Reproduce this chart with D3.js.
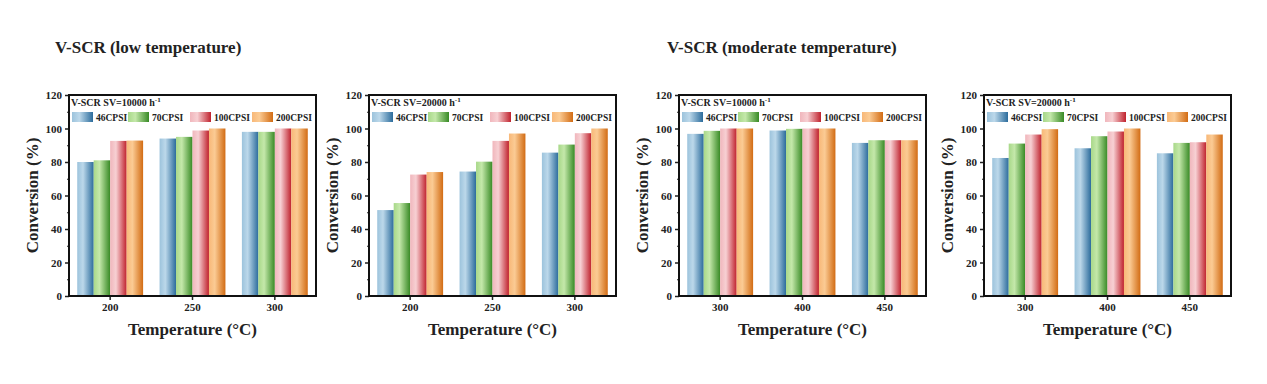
<!DOCTYPE html>
<html>
<head>
<meta charset="utf-8">
<script src="https://cdn.jsdelivr.net/npm/d3@7"></script>
<style>
  body { margin: 0; background: #fff; }
  svg text { font-family: "Liberation Serif", "Times New Roman", serif; font-weight: bold; fill: #222; }
</style>
</head>
<body>
<div id="chart"></div>
<script>
// series names
var series = ['46CPSI', '70CPSI', '100CPSI', '200CPSI'];
var lowTemps = ['200', '250', '300'];
var modTemps = ['300', '400', '450'];
var yTicks = [0, 20, 40, 60, 80, 100, 120];

// conversion values (%), one array per series, per panel
var low10k = [[80, 94, 98], [81, 95, 98], [92.6, 98.8, 100], [92.8, 100, 100]];
var low20k = [[51.3, 74.3, 85.6], [55.5, 80.2, 90.4], [72.5, 92.6, 97.2], [74, 97, 100]];
var mod10k = [[96.8, 98.8, 91.4], [98.6, 99.8, 93], [100, 100, 93], [100, 100, 93]];
var mod20k = [[82.4, 88.2, 85.2], [91, 95.4, 91.4], [96.4, 98.2, 91.8], [99.6, 100, 96.4]];

var panels = [
    { left: 69, temps: lowTemps, values: low10k, sv: '10000' },
    { left: 369, temps: lowTemps, values: low20k, sv: '20000' },
    { left: 679, temps: modTemps, values: mod10k, sv: '10000' },
    { left: 984, temps: modTemps, values: mod20k, sv: '20000' }
];

// light -> dark gradient stops for each series
var grads = [
    ['#9cc3dc', '#bcd8ea', '#2c6c9c'],
    ['#a8d889', '#c4e8aa', '#388a25'],
    ['#f0b6bc', '#f7d0d3', '#c0222d'],
    ['#f8b878', '#fbcb94', '#d26c14']
];

var W = 1267, H = 384;
var plotW = 247, plotTop = 95, plotBottom = 296;

var svg = d3.select('#chart').append('svg').attr('width', W).attr('height', H);

var defs = svg.append('defs');
grads.forEach(function (g, i) {
    var lg = defs.append('linearGradient').attr('id', 'g' + i)
        .attr('x1', '0%').attr('x2', '100%').attr('y1', '0%').attr('y2', '0%');
    lg.append('stop').attr('offset', '0%').attr('stop-color', g[0]);
    lg.append('stop').attr('offset', '35%').attr('stop-color', g[1]);
    lg.append('stop').attr('offset', '100%').attr('stop-color', g[2]);
});

svg.append('text').attr('x', 55).attr('y', 53).style('font-size', '17px').text('V-SCR (low temperature)');
svg.append('text').attr('x', 667).attr('y', 53).style('font-size', '17px').text('V-SCR (moderate temperature)');

var y = d3.scaleLinear().domain([0, 120]).range([plotBottom, plotTop]);

panels.forEach(function (p) {
    var x = d3.scaleBand().domain(p.temps).range([p.left, p.left + plotW]).paddingInner(0.2).paddingOuter(0.1);
    var xs = d3.scaleBand().domain(series).range([0, x.bandwidth()]);
    var g = svg.append('g');

    // bars
    series.forEach(function (s, si) {
        g.selectAll('.b' + si)
            .data(p.values[si])
            .enter()
            .append('rect')
            .attr('x', function (d, i) { return x(p.temps[i]) + xs(s); })
            .attr('y', function (d) { return y(d); })
            .attr('width', xs.bandwidth())
            .attr('height', function (d) { return plotBottom - y(d); })
            .attr('fill', 'url(#g' + si + ')');
    });

    // minor y ticks
    var minor = g.append('g').attr('transform', 'translate(' + p.left + ',0)')
        .call(d3.axisLeft(y).tickValues(d3.range(10, 120, 20)).tickSize(2).tickFormat(''));
    minor.select('.domain').remove();
    minor.selectAll('line').attr('stroke', '#222').attr('stroke-width', 1.2);

    var ya = g.append('g').attr('transform', 'translate(' + p.left + ',0)')
        .call(d3.axisLeft(y).tickValues(yTicks).tickSize(4).tickPadding(3));
    ya.select('.domain').remove();
    ya.selectAll('line').attr('stroke', '#222').attr('stroke-width', 1.5);
    ya.selectAll('text').style('font-size', '11px').style('font-family', '"Liberation Serif", serif');

    var xa = g.append('g').attr('transform', 'translate(0,' + plotBottom + ')')
        .call(d3.axisBottom(x).tickSize(4).tickPadding(3));
    xa.select('.domain').remove();
    xa.selectAll('line').attr('stroke', '#222').attr('stroke-width', 1.5);
    xa.selectAll('text').style('font-size', '11px').style('font-family', '"Liberation Serif", serif');

    // frame
    g.append('rect').attr('x', p.left).attr('y', plotTop).attr('width', plotW).attr('height', plotBottom - plotTop)
        .attr('fill', 'none').attr('stroke', '#111').attr('stroke-width', 2);

    // axis titles
    g.append('text')
        .attr('transform', 'translate(' + (p.left - 31) + ',' + ((plotTop + plotBottom) / 2) + ') rotate(-90)')
        .attr('text-anchor', 'middle').style('font-size', '17px').text('Conversion (%)');
    g.append('text').attr('x', p.left + plotW / 2).attr('y', 335)
        .attr('text-anchor', 'middle').style('font-size', '17px').text('Temperature (\u00B0C)');

    // legend
    var lt = g.append('text').attr('x', p.left + 2).attr('y', 106).style('font-size', '10px');
    lt.append('tspan').text('V-SCR SV=' + p.sv + ' h');
    lt.append('tspan').attr('dy', -4).style('font-size', '7px').text('-1');

    var offs = [3, 59, 121, 183];
    series.forEach(function (s, si) {
        var lx = p.left + offs[si];
        g.append('rect').attr('x', lx).attr('y', 112).attr('width', 21).attr('height', 10)
            .attr('fill', 'url(#g' + si + ')');
        g.append('text').attr('x', lx + 24).attr('y', 121).style('font-size', '9.5px').text(s);
    });
});
</script>
</body>
</html>
